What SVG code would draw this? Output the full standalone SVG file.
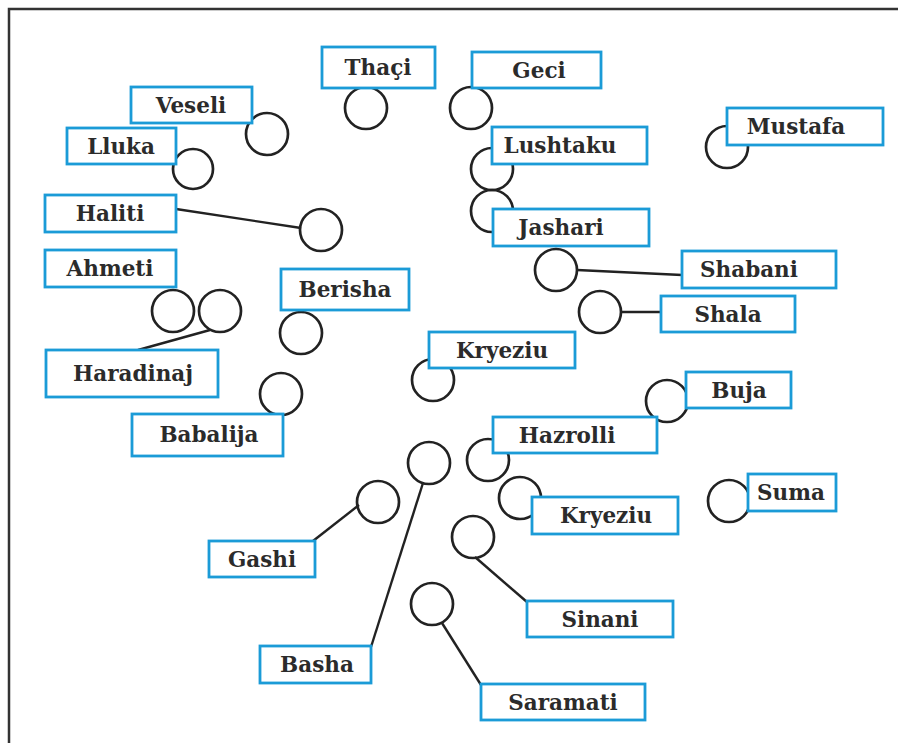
<svg xmlns="http://www.w3.org/2000/svg" width="898" height="743" viewBox="0 0 898 743">
<style>
.b{fill:#fff;stroke:#1b9bd7;stroke-width:2.8}
.c{fill:none;stroke:#222;stroke-width:2.7}
.t{font-family:"DejaVu Serif","Liberation Serif",serif;font-weight:bold;font-size:21.5px;fill:#2b2b2b;text-anchor:middle}
.l{stroke:#222;stroke-width:2.4;fill:none}
</style>
<rect width="898" height="743" fill="#fff"/>
<path d="M9,743 V9 H898" fill="none" stroke="#333" stroke-width="2.5"/>
<g id="connectors">
<line class="l" x1="176" y1="209" x2="301" y2="228"/>
<line class="l" x1="138" y1="350" x2="210" y2="330"/>
<line class="l" x1="577" y1="270" x2="682" y2="275"/>
<line class="l" x1="621" y1="312" x2="661" y2="312"/>
<line class="l" x1="423" y1="483" x2="371" y2="647"/>
<line class="l" x1="359" y1="505" x2="313" y2="541"/>
<line class="l" x1="475" y1="557" x2="527" y2="602"/>
<line class="l" x1="442" y1="623" x2="481" y2="685"/>
</g>
<g id="thaci"><circle class="c" cx="366" cy="108" r="21"/><rect class="b" x="322" y="47" width="113" height="41"/><text class="t" x="378" y="75">Thaçi</text></g>
<g id="veseli"><circle class="c" cx="267" cy="134" r="21"/><rect class="b" x="131" y="87" width="121" height="36"/><text class="t" x="191" y="113">Veseli</text></g>
<g id="lluka"><circle class="c" cx="193" cy="169" r="20"/><rect class="b" x="67" y="128" width="109" height="36"/><text class="t" x="121" y="154">Lluka</text></g>
<g id="haliti"><circle class="c" cx="321" cy="230" r="21"/><rect class="b" x="45" y="195" width="131" height="37"/><text class="t" x="110" y="221">Haliti</text></g>
<g id="geci"><circle class="c" cx="471" cy="108" r="21"/><rect class="b" x="472" y="52" width="129" height="36"/><text class="t" x="539" y="78">Geci</text></g>
<g id="lushtaku"><circle class="c" cx="492" cy="169" r="21"/><rect class="b" x="492" y="127" width="155" height="37"/><text class="t" x="560" y="153">Lushtaku</text></g>
<g id="jashari"><circle class="c" cx="492" cy="211" r="21"/><rect class="b" x="493" y="209" width="156" height="37"/><text class="t" x="561" y="235">Jashari</text></g>
<g id="mustafa"><circle class="c" cx="727" cy="147" r="21"/><rect class="b" x="727" y="108" width="156" height="37"/><text class="t" x="796" y="134">Mustafa</text></g>
<g id="ahmeti"><circle class="c" cx="173" cy="311" r="21"/><rect class="b" x="45" y="250" width="131" height="37"/><text class="t" x="110" y="276">Ahmeti</text></g>
<g id="haradinaj"><circle class="c" cx="220" cy="311" r="21"/><rect class="b" x="46" y="350" width="172" height="47"/><text class="t" x="133" y="381">Haradinaj</text></g>
<g id="berisha"><circle class="c" cx="301" cy="333" r="21"/><rect class="b" x="281" y="269" width="128" height="41"/><text class="t" x="345" y="297">Berisha</text></g>
<g id="babalija"><circle class="c" cx="281" cy="394" r="21"/><rect class="b" x="132" y="414" width="151" height="42"/><text class="t" x="209" y="442">Babalija</text></g>
<g id="shabani"><circle class="c" cx="556" cy="270" r="21"/><rect class="b" x="682" y="251" width="154" height="37"/><text class="t" x="749" y="277">Shabani</text></g>
<g id="shala"><circle class="c" cx="600" cy="312" r="21"/><rect class="b" x="661" y="296" width="134" height="36"/><text class="t" x="728" y="322">Shala</text></g>
<g id="kryeziu1"><circle class="c" cx="433" cy="380" r="21"/><rect class="b" x="429" y="332" width="146" height="36"/><text class="t" x="502" y="358">Kryeziu</text></g>
<g id="buja"><circle class="c" cx="667" cy="401" r="21"/><rect class="b" x="686" y="372" width="105" height="36"/><text class="t" x="739" y="398">Buja</text></g>
<g id="hazrolli"><circle class="c" cx="488" cy="460" r="21"/><rect class="b" x="493" y="417" width="164" height="36"/><text class="t" x="567" y="443">Hazrolli</text></g>
<g id="kryeziu2"><circle class="c" cx="520" cy="498" r="21"/><rect class="b" x="532" y="497" width="146" height="37"/><text class="t" x="606" y="523">Kryeziu</text></g>
<g id="suma"><circle class="c" cx="729" cy="501" r="21"/><rect class="b" x="748" y="474" width="88" height="37"/><text class="t" x="791" y="500">Suma</text></g>
<g id="basha"><circle class="c" cx="429" cy="463" r="21"/><rect class="b" x="260" y="646" width="111" height="37"/><text class="t" x="317" y="672">Basha</text></g>
<g id="gashi"><circle class="c" cx="378" cy="502" r="21"/><rect class="b" x="209" y="541" width="106" height="36"/><text class="t" x="262" y="567">Gashi</text></g>
<g id="sinani"><circle class="c" cx="473" cy="537" r="21"/><rect class="b" x="527" y="601" width="146" height="36"/><text class="t" x="600" y="627">Sinani</text></g>
<g id="saramati"><circle class="c" cx="432" cy="604" r="21"/><rect class="b" x="481" y="684" width="164" height="36"/><text class="t" x="563" y="710">Saramati</text></g>
</svg>
